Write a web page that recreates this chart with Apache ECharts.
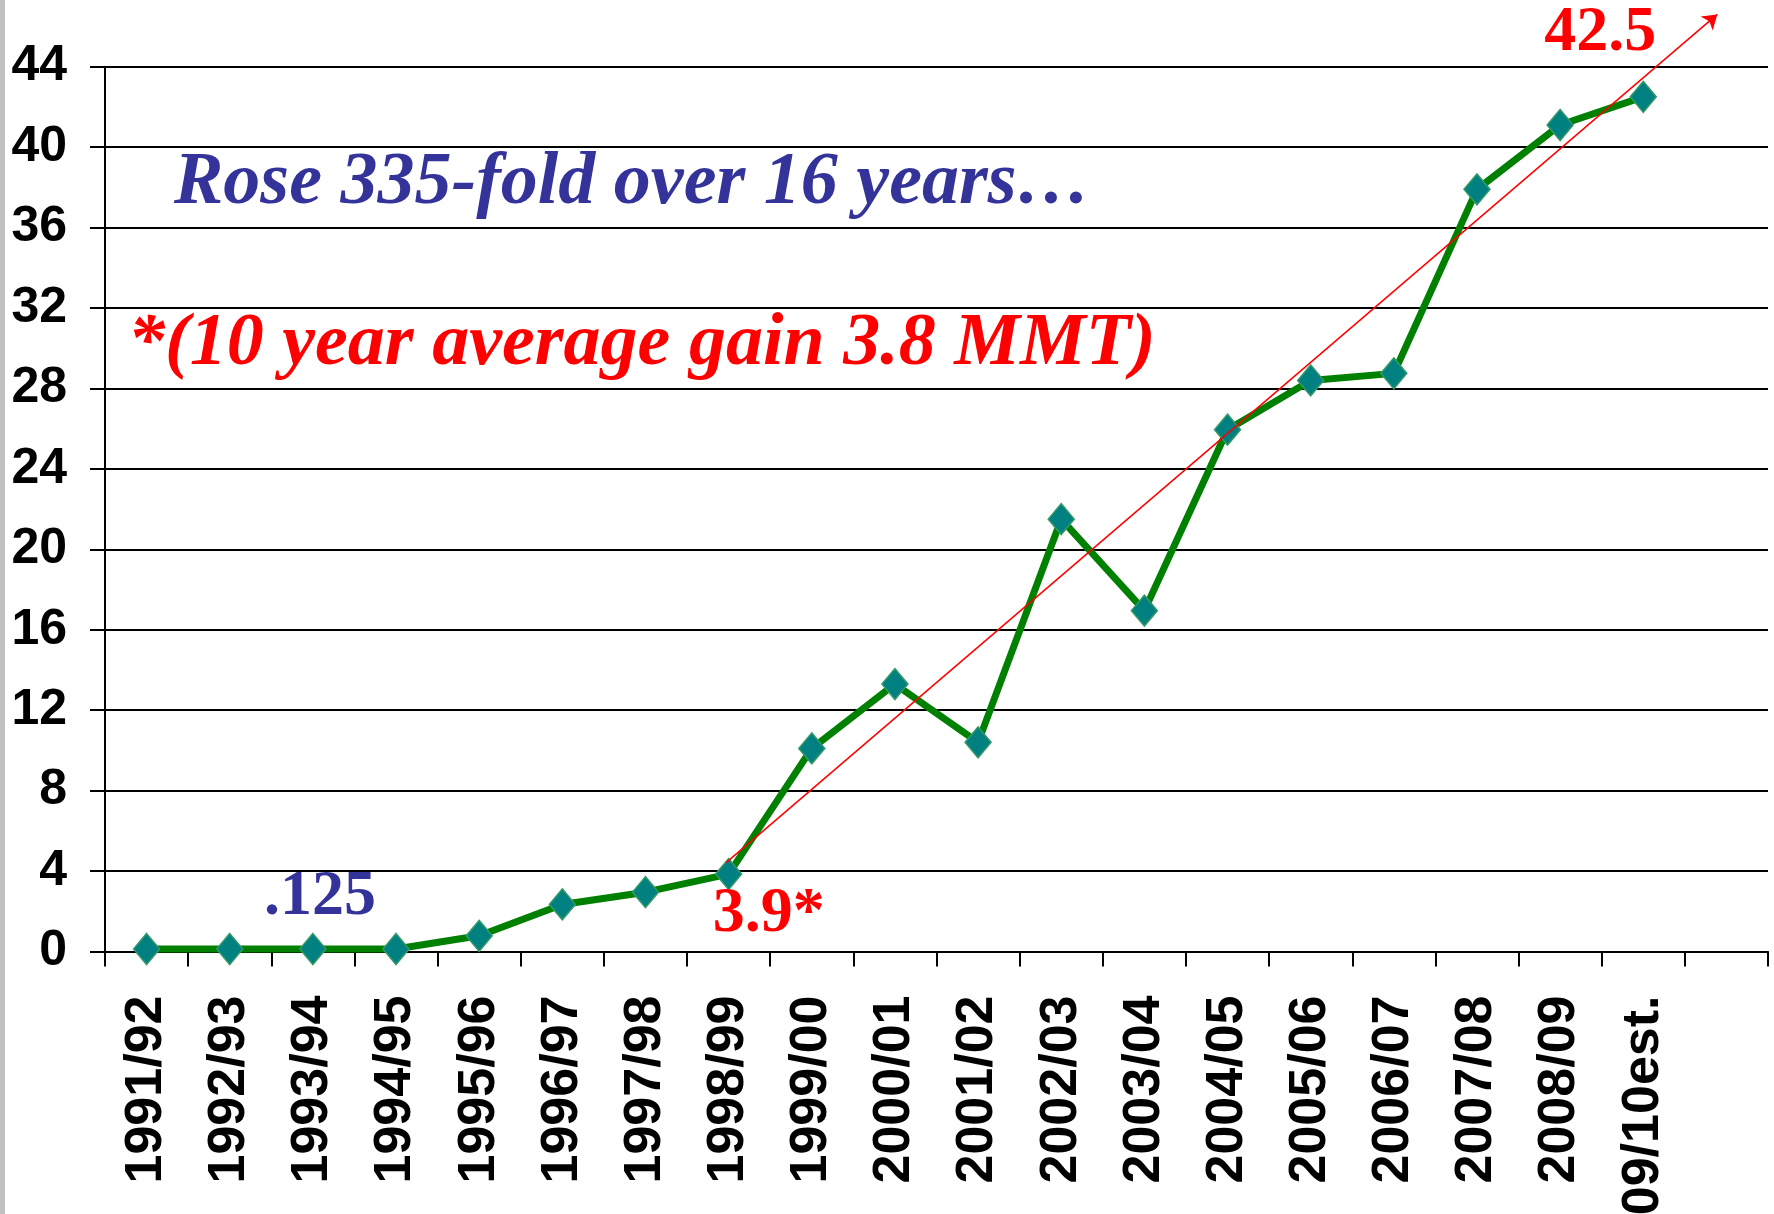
<!DOCTYPE html>
<html>
<head>
<meta charset="utf-8">
<title>Rose 335-fold over 16 years</title>
<script src="https://cdn.jsdelivr.net/npm/echarts@6/dist/echarts.min.js"></script>
<style>
    html, body { margin: 0; padding: 0; background: #fff; }
    #chart { width: 1774px; height: 1214px; }
</style>
</head>
<body>
<div id="chart"></div>
<script>
// seasons on the x axis, last slot is left empty like the original
const categories = [
    '1991/92', '1992/93', '1993/94', '1994/95', '1995/96', '1996/97', '1997/98',
    '1998/99', '1999/00', '2000/01', '2001/02', '2002/03', '2003/04', '2004/05',
    '2005/06', '2006/07', '2007/08', '2008/09', '09/10est.', '',
];
const production = [
    0.125, 0.125, 0.125, 0.125, 0.78, 2.34, 2.95,
    3.85, 10.1, 13.3, 10.4, 21.5, 16.95, 25.95,
    28.4, 28.75, 37.9, 41.1, 42.5, null,
];
// trend arrow, x in category index units
const trendStart = [6.97, 4.42];
const trendEnd = [18.89, 46.6];

const headline = 'Rose 335-fold over 16 years…';
const footnote = '*(10 year average gain 3.8 MMT)';
const pointNotes = { 2: '.125', 7: '3.9*', 18: '42.5' };

const chart = echarts.init(document.getElementById('chart'));

const serif = '"Liberation Serif", "Times New Roman", serif';
const sans = '"Liberation Sans", Arial, sans-serif';

const noteStyle = {
    2: { color: '#333399', offset: [7, -52] },
    7: { color: '#ff0000', offset: [40, 40] },
    18: { color: '#ff0000', offset: [-43, -63] },
};

const lineData = production.map((v, i) => {
    if (!pointNotes[i]) return v;
    return {
        value: v,
        label: {
            show: true,
            formatter: pointNotes[i],
            position: 'inside',
            align: 'center',
            verticalAlign: 'middle',
            offset: noteStyle[i].offset,
            color: noteStyle[i].color,
            fontFamily: serif,
            fontWeight: 'bold',
            fontSize: 64,
        },
    };
});

const option = {
    backgroundColor: '#fff',
    animation: false,
    grid: {
        left: 105,
        right: 6,
        top: 66.7,
        bottom: 262.5,
        outerBoundsMode: 'none',
    },
    xAxis: [
        {
            type: 'category',
            data: categories,
            boundaryGap: true,
            axisLine: { lineStyle: { color: '#000', width: 2 } },
            axisTick: { show: true, length: 15, lineStyle: { color: '#000', width: 2 } },
            axisLabel: {
                interval: 0,
                rotate: 90,
                margin: 44,
                color: '#000',
                fontFamily: sans,
                fontWeight: 'bold',
                fontSize: 52,
            },
        },
        {
            type: 'value',
            min: -0.5,
            max: 19.5,
            show: false,
        },
    ],
    yAxis: {
        type: 'value',
        min: 0,
        max: 44,
        interval: 4,
        axisLine: { show: true, onZero: false, lineStyle: { color: '#000', width: 2 } },
        axisTick: { show: true, length: 15, lineStyle: { color: '#000', width: 2 } },
        splitLine: { lineStyle: { color: '#000', width: 2 } },
        axisLabel: {
            margin: 38,
            color: '#000',
            fontFamily: sans,
            fontWeight: 'bold',
            fontSize: 50,
        },
    },
    graphic: [
        {
            type: 'rect',
            left: 0,
            top: 0,
            shape: { width: 5, height: 1214 },
            style: { fill: '#c0c0c0' },
            silent: true,
        },
        {
            type: 'text',
            style: {
                x: 174,
                y: 184,
                text: headline,
                verticalAlign: 'middle',
                fill: '#333399',
                font: 'italic bold 74px ' + serif,
            },
            z: 10,
        },
        {
            type: 'text',
            style: {
                x: 128,
                y: 345,
                text: footnote,
                verticalAlign: 'middle',
                fill: '#ff0000',
                font: 'italic bold 74px ' + serif,
            },
            z: 10,
        },
    ],
    series: [
        {
            name: 'trend',
            type: 'lines',
            coordinateSystem: 'cartesian2d',
            xAxisIndex: 1,
            yAxisIndex: 0,
            clip: false,
            silent: true,
            symbol: ['none', 'arrow'],
            symbolSize: 14,
            lineStyle: { color: '#ff0000', width: 1.5, opacity: 1, curveness: 0 },
            data: [{ coords: [trendStart, trendEnd] }],
            z: 4,
        },
        {
            name: 'production',
            type: 'line',
            data: lineData,
            symbol: 'diamond',
            symbolSize: [26, 31],
            showAllSymbol: true,
            lineStyle: { color: '#008000', width: 7 },
            itemStyle: { color: '#008080', borderColor: '#339966', borderWidth: 1.5 },
            z: 3,
        },
    ],
};

chart.setOption(option);
</script>
</body>
</html>
